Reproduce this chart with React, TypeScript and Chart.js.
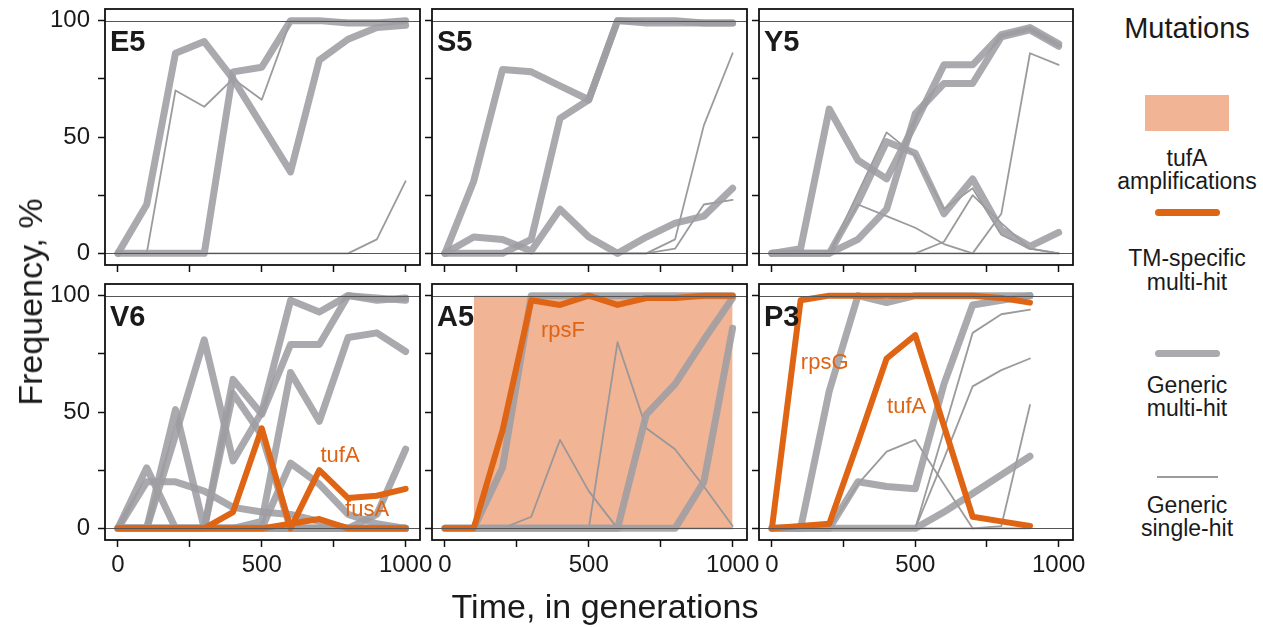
import React, { useEffect, useRef } from 'react';
import { Chart, registerables } from 'chart.js';

Chart.register(...registerables);

// ---------- data ----------
const generations = [0, 100, 200, 300, 400, 500, 600, 700, 800, 900, 1000];
const generationsP3 = [0, 100, 200, 300, 400, 500, 600, 700, 800, 900];
const yTickValues = [0, 25, 50, 75, 100];
const yTickLabels = [0, 50, 100];
const xTickValues = [0, 250, 500, 750, 1000];
const xTickLabels = [0, 500, 1000];

// E5
const e5Multi1 = [0, 21, 86, 91, 75, 55, 35, 83, 92, 97, 98];
const e5Multi2 = [0, 0, 0, 0, 78, 80, 100, 100, 99, 99, 100];
const e5Single1 = [0, 0, 70, 63, 75, 66, 100, 100, 100, 100, 99];
const e5Single2 = [0, 0, 0, 0, 0, 0, 0, 0, 0, 6, 31];

// S5
const s5Multi1 = [0, 31, 79, 78, 72, 66, 100, 99, 99, 99, 99];
const s5Multi2 = [0, 0, 0, 6, 58, 66, 100, 100, 100, 99, 99];
const s5Multi3 = [0, 7, 6, 1, 19, 7, 0, 7, 13, 16, 28];
const s5Single1 = [0, 0, 0, 0, 0, 0, 0, 0, 6, 55, 86];
const s5Single2 = [0, 0, 0, 0, 0, 0, 0, 0, 2, 21, 23];

// Y5
const y5Multi1 = [0, 2, 62, 40, 32, 56, 81, 81, 94, 97, 90];
const y5Multi2 = [0, 0, 0, 6, 19, 60, 73, 73, 93, 96, 89];
const y5Multi3 = [0, 0, 0, 22, 48, 43, 17, 32, 10, 3, 9];
const y5Single1 = [0, 0, 0, 21, 16, 11, 4, 0, 0, 0, 0];
const y5Single2 = [0, 0, 0, 26, 52, 42, 19, 28, 8, 2, 0];
const y5Single3 = [0, 0, 0, 0, 0, 0, 5, 25, 13, 2, 0];
const y5Single4 = [0, 0, 0, 0, 0, 0, 0, 0, 17, 86, 81];

// V6
const v6TufA = [0, 0, 0, 0, 7, 43, 0, 25, 13, 14, 17];
const v6FusA = [0, 0, 0, 0, 0, 0, 2, 4, 0, 0, 0];
const v6Multi1 = [0, 26, 0, 0, 0, 0, 0, 0, 0, 0, 0];
const v6Multi2 = [0, 20, 20, 16, 9, 7, 6, 3, 0, 0, 0];
const v6Multi3 = [0, 0, 51, 0, 0, 0, 0, 0, 0, 0, 0];
const v6Multi4 = [0, 0, 40, 81, 29, 50, 98, 93, 100, 98, 99];
const v6Multi5 = [0, 0, 0, 0, 64, 49, 79, 79, 100, 99, 98];
const v6Multi6 = [0, 0, 0, 0, 0, 3, 67, 46, 82, 84, 76];
const v6Multi7 = [0, 0, 0, 0, 58, 40, 0, 0, 0, 0, 0];
const v6Multi8 = [0, 0, 0, 0, 0, 0, 28, 19, 6, 2, 0];
const v6Multi9 = [0, 0, 0, 0, 0, 0, 0, 0, 0, 6, 34];

// A5
const a5RpsF = [0, 0, 42, 98, 96, 100, 96, 99, 99, 100, 100];
const a5Multi1 = [0, 0, 26, 100, 100, 100, 100, 100, 100, 100, 100];
const a5Multi2 = [0, 0, 0, 0, 0, 0, 0, 49, 62, 81, 99];
const a5Multi3 = [0, 0, 0, 0, 0, 0, 0, 0, 0, 20, 86];
const a5Single1 = [0, 0, 0, 5, 38, 16, 0, 0, 0, 0, 0];
const a5Single2 = [0, 0, 0, 0, 0, 0, 80, 43, 34, 18, 1];
const a5AmplificationSpan = [100, 1000];
const a5AmplificationLevel = 100;

// P3
const p3RpsG = [0, 98, 100, 100, 100, 100, 100, 100, 99, 97];
const p3TufA = [0, 1, 2, 37, 73, 83, 44, 5, 3, 1];
const p3Multi1 = [0, 0, 59, 100, 97, 100, 100, 100, 100, 100];
const p3Multi2 = [0, 0, 0, 20, 18, 17, 62, 96, 98, 100];
const p3Multi3 = [0, 0, 0, 0, 0, 0, 7, 15, 23, 31];
const p3Single1 = [0, 0, 0, 19, 33, 38, 19, 0, 0, 0];
const p3Single2 = [0, 0, 0, 0, 0, 0, 42, 84, 92, 94];
const p3Single3 = [0, 0, 0, 0, 0, 0, 30, 61, 68, 73];
const p3Single4 = [0, 0, 0, 0, 0, 0, 0, 0, 1, 53];

// ---------- styles ----------
const ORANGE = '#DF6413';
const SHADE = '#F1B495';
const GRAY_THICK = 'rgba(158,158,163,0.88)';
const GRAY_THIN = 'rgba(150,150,152,0.95)';
const FONT = "'Liberation Sans', Arial, Helvetica, sans-serif";
const TEXT = '#1a1a1a';

type Kind = 'tm' | 'multi' | 'single';
const STYLE: Record<Kind, { color: string; width: number; order: number }> = {
  tm: { color: ORANGE, width: 6, order: 1 },
  multi: { color: GRAY_THICK, width: 7, order: 2 },
  single: { color: GRAY_THIN, width: 1.8, order: 3 },
};

type Line = { kind: Kind; values: number[]; gens: number[] };
type Note = { text: string; x: number; y: number };
type PanelDef = { name: string; lines: Line[]; notes: Note[]; shade?: boolean };

const L = (kind: Kind, values: number[], gens: number[] = generations): Line => ({ kind, values, gens });

const panels: PanelDef[] = [
  {
    name: 'E5',
    lines: [L('multi', e5Multi1), L('multi', e5Multi2), L('single', e5Single1), L('single', e5Single2)],
    notes: [],
  },
  {
    name: 'S5',
    lines: [L('multi', s5Multi1), L('multi', s5Multi2), L('multi', s5Multi3), L('single', s5Single1), L('single', s5Single2)],
    notes: [],
  },
  {
    name: 'Y5',
    lines: [
      L('multi', y5Multi1), L('multi', y5Multi2), L('multi', y5Multi3),
      L('single', y5Single1), L('single', y5Single2), L('single', y5Single3), L('single', y5Single4),
    ],
    notes: [],
  },
  {
    name: 'V6',
    lines: [
      L('tm', v6TufA), L('tm', v6FusA),
      L('multi', v6Multi1), L('multi', v6Multi2), L('multi', v6Multi3), L('multi', v6Multi4), L('multi', v6Multi5),
      L('multi', v6Multi6), L('multi', v6Multi7), L('multi', v6Multi8), L('multi', v6Multi9),
    ],
    notes: [
      { text: 'tufA', x: 772, y: 31 },
      { text: 'fusA', x: 866, y: 8 },
    ],
  },
  {
    name: 'A5',
    lines: [
      L('tm', a5RpsF), L('multi', a5Multi1), L('multi', a5Multi2), L('multi', a5Multi3),
      L('single', a5Single1), L('single', a5Single2),
    ],
    notes: [{ text: 'rpsF', x: 410, y: 85 }],
    shade: true,
  },
  {
    name: 'P3',
    lines: [
      L('tm', p3RpsG, generationsP3), L('tm', p3TufA, generationsP3),
      L('multi', p3Multi1, generationsP3), L('multi', p3Multi2, generationsP3), L('multi', p3Multi3, generationsP3),
      L('single', p3Single1, generationsP3), L('single', p3Single2, generationsP3),
      L('single', p3Single3, generationsP3), L('single', p3Single4, generationsP3),
    ],
    notes: [
      { text: 'rpsG', x: 184, y: 71 },
      { text: 'tufA', x: 470, y: 52 },
    ],
  },
];

// ---------- layout ----------
const COL_LEFT = [105, 432, 759];
const COL_RIGHT = [420, 747, 1073];
const ROW_TOP = [9, 284];
const ROW_BOTTOM = [265, 540];

const panelPlugin = {
  id: 'panelDecor',
  afterDatasetsDraw(chart: any) {
    const { ctx, chartArea, scales } = chart;
    ctx.save();
    ctx.strokeStyle = '#555';
    ctx.lineWidth = 1.2;
    for (const v of [0, 100]) {
      const y = Math.round(scales.y.getPixelForValue(v)) + 0.5;
      ctx.beginPath();
      ctx.moveTo(chartArea.left, y);
      ctx.lineTo(chartArea.right, y);
      ctx.stroke();
    }
    ctx.restore();
  },
  afterDraw(chart: any) {
    const { ctx, chartArea, scales } = chart;
    const opts = chart.options.plugins.panelDecor || {};
    ctx.save();
    ctx.strokeStyle = '#111';
    ctx.lineWidth = 1.8;
    ctx.strokeRect(chartArea.left, chartArea.top, chartArea.right - chartArea.left, chartArea.bottom - chartArea.top);
    ctx.fillStyle = TEXT;
    ctx.font = `bold 29px ${FONT}`;
    ctx.textAlign = 'left';
    ctx.textBaseline = 'alphabetic';
    ctx.fillText(opts.name || '', chartArea.left + 5, chartArea.top + 42);
    ctx.font = `22px ${FONT}`;
    ctx.fillStyle = ORANGE;
    ctx.textAlign = 'center';
    ctx.textBaseline = 'middle';
    for (const n of (opts.notes || []) as Note[]) {
      ctx.fillText(n.text, scales.x.getPixelForValue(n.x), scales.y.getPixelForValue(n.y));
    }
    ctx.restore();
  },
};

function Panel({ def, col, row }: { def: PanelDef; col: number; row: number }) {
  const ref = useRef<HTMLCanvasElement>(null);
  const Lx = COL_LEFT[col];
  const R = COL_RIGHT[col];
  const T = ROW_TOP[row];
  const B = ROW_BOTTOM[row];
  const yW = col === 0 ? Lx : 10;
  const xH = row === 1 ? 45 : 10;
  const padTop = 4;
  const padRight = 16;
  const left = Lx - yW;
  const top = T - padTop;
  const width = R + padRight - left;
  const height = B + xH - top;

  useEffect(() => {
    if (!ref.current) return;
    const datasets: any[] = [];
    if (def.shade) {
      datasets.push({
        data: a5AmplificationSpan.map((g) => ({ x: g, y: a5AmplificationLevel })),
        fill: 'origin',
        backgroundColor: SHADE,
        borderWidth: 0,
        borderColor: 'rgba(0,0,0,0)',
        pointRadius: 0,
        order: 10,
      });
    }
    def.lines.forEach((l) => {
      const st = STYLE[l.kind];
      datasets.push({
        data: l.gens.map((g, i) => ({ x: g, y: l.values[i] })),
        borderColor: st.color,
        borderWidth: st.width,
        order: st.order,
        pointRadius: 0,
        fill: false,
        tension: 0,
        borderCapStyle: 'round',
        borderJoinStyle: 'round',
      });
    });
    const zeroPad = (s: any) => {
      s.paddingTop = 0;
      s.paddingBottom = 0;
      s.paddingLeft = 0;
      s.paddingRight = 0;
    };
    const chart = new Chart(ref.current, {
      type: 'line',
      data: { datasets },
      plugins: [panelPlugin as any],
      options: {
        animation: false,
        responsive: false,
        devicePixelRatio: 1,
        events: [],
        layout: { padding: { top: padTop, right: padRight, left: 0, bottom: 0 } },
        plugins: {
          legend: { display: false },
          tooltip: { enabled: false },
          panelDecor: { name: def.name, notes: def.notes },
        } as any,
        scales: {
          x: {
            type: 'linear',
            min: -45,
            max: 1050,
            afterBuildTicks: (s: any) => {
              s.ticks = xTickValues.map((v) => ({ value: v }));
            },
            afterFit: (s: any) => {
              s.height = xH;
              zeroPad(s);
            },
            ticks: {
              autoSkip: false,
              maxRotation: 0,
              minRotation: 0,
              padding: 4,
              color: TEXT,
              font: { family: FONT, size: 24 },
              callback: (v: any) => (row === 1 && xTickLabels.includes(Number(v)) ? String(v) : ''),
            },
            grid: { drawOnChartArea: false, drawTicks: true, tickLength: 7, tickWidth: 1.5, tickColor: '#111' },
            border: { display: false },
          },
          y: {
            type: 'linear',
            min: -5,
            max: 105,
            afterBuildTicks: (s: any) => {
              s.ticks = yTickValues.map((v) => ({ value: v }));
            },
            afterFit: (s: any) => {
              s.width = yW;
              zeroPad(s);
            },
            ticks: {
              autoSkip: false,
              padding: 8,
              color: TEXT,
              font: { family: FONT, size: 24 },
              callback: (v: any) => (col === 0 && yTickLabels.includes(Number(v)) ? String(v) : ''),
            },
            grid: { drawOnChartArea: false, drawTicks: true, tickLength: 7, tickWidth: 1.5, tickColor: '#111' },
            border: { display: false },
          },
        },
      } as any,
    });
    return () => chart.destroy();
  }, []);

  return (
    <canvas
      ref={ref}
      width={width}
      height={height}
      style={{ position: 'absolute', left, top, width, height }}
    />
  );
}

const legendTexts: { text: string; y: number }[] = [
  { text: 'tufA', y: 158 },
  { text: 'amplifications', y: 181 },
  { text: 'TM-specific', y: 258 },
  { text: 'multi-hit', y: 282 },
  { text: 'Generic', y: 385 },
  { text: 'multi-hit', y: 408 },
  { text: 'Generic', y: 505 },
  { text: 'single-hit', y: 528 },
];

const centered = (x: number, y: number, size: number, extra: React.CSSProperties = {}): React.CSSProperties => ({
  position: 'absolute',
  left: x,
  top: y,
  transform: 'translate(-50%, -50%)',
  whiteSpace: 'nowrap',
  fontFamily: FONT,
  fontSize: size,
  lineHeight: 1,
  color: TEXT,
  ...extra,
});

export default function App() {
  const LEG_X = 1187;
  return (
    <div style={{ position: 'absolute', left: 0, top: 0, width: 1263, height: 627, background: '#fff', overflow: 'hidden' }}>
      {panels.map((p, i) => (
        <Panel key={p.name} def={p} col={i % 3} row={Math.floor(i / 3)} />
      ))}
      <div style={centered(30, 302, 34, { transform: 'translate(-50%, -50%) rotate(-90deg)' })}>Frequency, %</div>
      <div style={centered(605, 606, 34)}>Time, in generations</div>

      <div style={centered(LEG_X, 28, 29)}>Mutations</div>
      <div style={{ position: 'absolute', left: 1145, top: 95, width: 84, height: 36, background: SHADE }} />
      <div style={{ position: 'absolute', left: 1155, top: 209, width: 65, height: 7, borderRadius: 4, background: ORANGE }} />
      <div style={{ position: 'absolute', left: 1155, top: 350, width: 65, height: 7, borderRadius: 4, background: GRAY_THICK }} />
      <div style={{ position: 'absolute', left: 1157, top: 476, width: 61, height: 2, background: GRAY_THIN }} />
      {legendTexts.map((t, i) => (
        <div key={i} style={centered(LEG_X, t.y, 23)}>{t.text}</div>
      ))}
    </div>
  );
}
